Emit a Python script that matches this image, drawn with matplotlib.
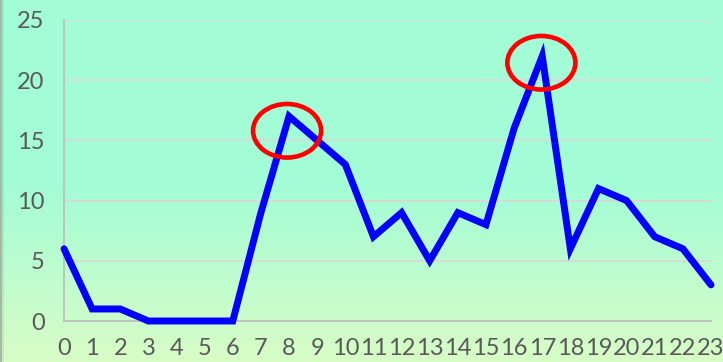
import numpy as np
import matplotlib
matplotlib.use("Agg")
import matplotlib.pyplot as plt
from matplotlib.patches import Ellipse
from matplotlib.colors import to_rgb

hours = list(range(24))
values = [6, 1, 1, 0, 0, 0, 0, 9, 17, 15, 13, 7, 9, 5, 9, 8, 16, 22, 6, 11, 10, 7, 6, 3]
x_labels = [str(h) for h in hours]
y_ticks = [0, 5, 10, 15, 20, 25]
highlights = [(7.93, 15.8), (16.97, 21.45)]

plt.rcParams['font.family'] = ['Lato', 'DejaVu Sans']

fig = plt.figure(figsize=(7.23, 3.62), dpi=100)

# background gradient
bg = fig.add_axes([0, 0, 1, 1], zorder=-10)
n = 362
top = np.array(to_rgb('#a2fcd6'))
bot = np.array(to_rgb('#d8fcc6'))
t = np.linspace(0, 1, n)
t = np.clip((t - 0.5) / 0.5, 0, 1)
grad = top[None, :] * (1 - t[:, None]) + bot[None, :] * t[:, None]
img = np.repeat(grad[:, None, :], 723, axis=1)
# left edge shading
img[:, 0:2, :] = np.array(to_rgb('#a8b8a8'))
img[:, 2:4, :] = img[:, 2:4, :] * 0.93
bg.imshow(img, aspect='auto', extent=[0, 1, 0, 1], origin='upper')
bg.set_axis_off()

ax = fig.add_axes([64 / 723, 41 / 362, (711 - 64) / 723, (321 - 20) / 362])
ax.set_facecolor('none')
ax.plot(hours, values, color='#0000ff', lw=5, solid_joinstyle='miter',
        solid_capstyle='round', zorder=3, clip_on=False)

for cx, cy in highlights:
    ax.add_patch(Ellipse((cx, cy), 2.42, 4.45, fill=False, edgecolor='#ff0000', lw=3.3, zorder=4))

ax.set_xlim(0, 23)
ax.set_ylim(0, 25)
ax.set_xticks(hours)
ax.set_xticklabels(x_labels)
ax.set_yticks(y_ticks)
ax.yaxis.grid(True, color='#d9d9d9', lw=1.3)
ax.set_axisbelow(True)
for s in ['top', 'right']:
    ax.spines[s].set_visible(False)
for s in ['left', 'bottom']:
    ax.spines[s].set_color('#bfbfbf')
    ax.spines[s].set_linewidth(1.3)
ax.tick_params(axis='both', length=0, labelcolor='#595959', labelsize=17)
ax.tick_params(axis='y', pad=14)
ax.tick_params(axis='x', pad=12)

fig.savefig('out.png', dpi=100)
